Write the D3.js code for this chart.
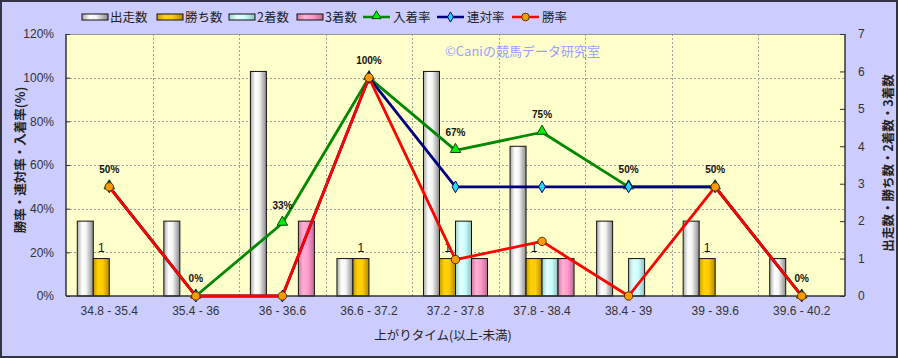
<!DOCTYPE html>
<html><head><meta charset="utf-8">
<script src="https://cdn.jsdelivr.net/npm/d3@7"></script>
<style>body{margin:0;padding:0;background:#fff}svg{display:block}</style>
</head><body>
<script>
const categories = ["34.8 - 35.4","35.4 - 36","36 - 36.6","36.6 - 37.2","37.2 - 37.8","37.8 - 38.4","38.4 - 39","39 - 39.6","39.6 - 40.2"];
const runs   = [2,2,6,1,6,4,2,2,1];   // 出走数
const wins   = [1,0,0,1,1,1,0,1,0];   // 勝ち数
const second = [0,0,0,0,2,1,1,0,0];   // 2着数
const third  = [0,0,2,0,1,1,0,0,0];   // 3着数
const winRate   = [0.5,0,0,1,0.1667,0.25,0,0.5,0];     // 勝率
const rentaiRate= [0.5,0,0,1,0.5,0.5,0.5,0.5,0];        // 連対率
const placeRate = [0.5,0,0.3333,1,0.6667,0.75,0.5,0.5,0]; // 入着率
const placeLabels = ["50%","0%","33%","100%","67%","75%","50%","50%","0%"];
const leftTicks = [0,0.2,0.4,0.6,0.8,1.0,1.2];
const rightTicks = [0,1,2,3,4,5,6,7];

const W=898,H=358;
const L=66,R=845,T=34,B=296;
const jp='"Noto Sans CJK JP","Noto Sans",sans-serif';
const num='"Liberation Sans",Arial,sans-serif';

const svg=d3.select("body").append("svg").attr("width",W).attr("height",H);
const defs=svg.append("defs");
function grad(id,stops){
  const g=defs.append("linearGradient").attr("id",id).attr("x1","0").attr("x2","1").attr("y1","0").attr("y2","0");
  stops.forEach(s=>g.append("stop").attr("offset",s[0]).attr("stop-color",s[1]));
}
grad("gRun",[[0,"#a8a8a8"],[0.3,"#ffffff"],[0.55,"#f4f4f4"],[1,"#8a8a8a"]]);
grad("gWin",[[0,"#c89a00"],[0.3,"#ffd200"],[0.6,"#ffcc00"],[1,"#b08800"]]);
grad("gSec",[[0,"#9fd0d0"],[0.3,"#e0ffff"],[0.6,"#ccffff"],[1,"#8fbfbf"]]);
grad("gThr",[[0,"#d07aa0"],[0.3,"#ffb0d4"],[0.6,"#ff99cc"],[1,"#c06890"]]);

svg.append("rect").attr("x",0).attr("y",0).attr("width",W).attr("height",H).attr("fill","#ccccff");
svg.append("rect").attr("x",1).attr("y",1).attr("width",W-2).attr("height",H-2).attr("fill","none").attr("stroke","#333344").attr("stroke-width",2);
svg.append("rect").attr("x",L).attr("y",T).attr("width",R-L).attr("height",B-T).attr("fill","#ffffcc");

const x=d3.scaleBand().domain(categories).range([L,R]).padding(0);
const yL=d3.scaleLinear().domain([0,1.2]).range([B,T]);
const yR=d3.scaleLinear().domain([0,7]).range([B,T]);
const series=["run","win","sec","thr"];
const bw=16;
const xs=d3.scaleBand().domain(series).range([0,bw*4]);
const off=(x.bandwidth()-bw*4)/2;

// gridlines
const grid=svg.append("g");
leftTicks.forEach(t=>{ if(t>0) grid.append("line").attr("x1",L).attr("x2",R).attr("y1",Math.round(yL(t))+0.5).attr("y2",Math.round(yL(t))+0.5)
  .attr("stroke","#a0a0a0").attr("stroke-dasharray","2,2"); });
categories.forEach((c,i)=>{ if(i>0) grid.append("line").attr("x1",Math.round(x(c))+0.5).attr("x2",Math.round(x(c))+0.5).attr("y1",T).attr("y2",B)
  .attr("stroke","#a0a0a0").attr("stroke-dasharray","2,2"); });

// bars
const barData=[["run",runs,"url(#gRun)"],["win",wins,"url(#gWin)"],["sec",second,"url(#gSec)"],["thr",third,"url(#gThr)"]];
const bars=svg.append("g");
barData.forEach(([k,vals,fill])=>{
  bars.selectAll(null).data(vals.map((v,i)=>({v,c:categories[i]})).filter(d=>d.v>0)).enter().append("rect")
    .attr("x",d=>x(d.c)+off+xs(k)).attr("width",bw)
    .attr("y",d=>yR(d.v)).attr("height",d=>B-yR(d.v))
    .attr("fill",fill).attr("stroke","#111").attr("stroke-width",1);
});
// win count labels
svg.append("g").selectAll("text").data(wins.map((v,i)=>({v,c:categories[i]})).filter(d=>d.v>0)).enter().append("text")
  .attr("x",d=>x(d.c)+off+xs("win")+bw/2).attr("y",d=>yR(d.v)-7)
  .attr("text-anchor","middle").attr("font-family",num).attr("font-size",12).attr("fill","#111").text(d=>d.v);

// axes
const ax=svg.append("g").attr("stroke","#333").attr("stroke-width",1.5).attr("fill","none");
ax.append("line").attr("x1",L).attr("x2",L).attr("y1",T).attr("y2",B);
ax.append("line").attr("x1",R).attr("x2",R).attr("y1",T).attr("y2",B);
ax.append("line").attr("x1",L).attr("x2",R).attr("y1",B).attr("y2",B);
svg.append("line").attr("x1",L).attr("x2",R).attr("y1",T+0.5).attr("y2",T+0.5).attr("stroke","#999");

const leftAxis=svg.append("g").attr("transform",`translate(${L},0)`)
  .call(d3.axisLeft(yL).tickValues(leftTicks).tickFormat(d=>Math.round(d*100)+"%").tickSize(-4).tickPadding(12));
const rightAxis=svg.append("g").attr("transform",`translate(${R},0)`)
  .call(d3.axisRight(yR).tickValues(rightTicks).tickFormat(d3.format("d")).tickSize(-5).tickPadding(13));
const bottomAxis=svg.append("g").attr("transform",`translate(0,${B})`)
  .call(d3.axisBottom(x).tickSize(0).tickPadding(10));
[leftAxis,rightAxis,bottomAxis].forEach(a=>{
  a.select(".domain").remove();
  a.selectAll("line").attr("stroke","#333");
  a.selectAll("text").attr("font-family",num).attr("font-size",12).attr("fill","#333");
});

// lines
function drawLine(vals,color){
  const line=d3.line().x((d,i)=>x(categories[i])+x.bandwidth()/2).y(d=>yL(d));
  svg.append("path").datum(vals).attr("d",line).attr("fill","none").attr("stroke",color).attr("stroke-width",2.8).attr("stroke-linejoin","round");
}
const cx=i=>x(categories[i])+x.bandwidth()/2;
drawLine(placeRate,"#008800");
svg.append("g").selectAll("path").data(placeRate).enter().append("path")
  .attr("d",d3.symbol().type(d3.symbolTriangle).size(48)).attr("transform",(d,i)=>`translate(${cx(i)},${yL(d)-1})`)
  .attr("fill","#00ee00").attr("stroke","#114411").attr("stroke-width",1);
drawLine(rentaiRate,"#000080");
svg.append("g").selectAll("path").data(rentaiRate).enter().append("path")
  .attr("d",d3.symbol().type(d3.symbolDiamond).size(40)).attr("transform",(d,i)=>`translate(${cx(i)},${yL(d)})`)
  .attr("fill","#22ddee").attr("stroke","#000080").attr("stroke-width",1);
drawLine(winRate,"#ff0000");
svg.append("g").selectAll("circle").data(winRate).enter().append("circle")
  .attr("cx",(d,i)=>cx(i)).attr("cy",d=>yL(d)).attr("r",4.2)
  .attr("fill","#ff9900").attr("stroke","#553300").attr("stroke-width",1);

// place rate labels
svg.append("g").selectAll("text").data(placeRate).enter().append("text")
  .attr("x",(d,i)=>cx(i)).attr("y",d=>yL(d)-14)
  .attr("text-anchor","middle").attr("font-family",num).attr("font-weight","bold").attr("font-size",10).attr("fill","#111")
  .text((d,i)=>placeLabels[i]);

// watermark
svg.append("text").attr("x",445).attr("y",56).attr("font-family",jp).attr("font-size",13).attr("fill","#99a0ff").text("©Caniの競馬データ研究室");

// titles
svg.append("text").attr("transform","translate(25,160) rotate(-90)").attr("text-anchor","middle")
  .attr("font-family",jp).attr("font-size",12.5).attr("font-weight","bold").attr("fill","#222").text("勝率・連対率・入着率(%)");
svg.append("text").attr("transform","translate(893,163) rotate(-90)").attr("text-anchor","middle")
  .attr("font-family",jp).attr("font-size",12.5).attr("font-weight","bold").attr("fill","#222").text("出走数・勝ち数・2着数・3着数");
svg.append("text").attr("x",443).attr("y",340).attr("text-anchor","middle")
  .attr("font-family",jp).attr("font-size",12.5).attr("fill","#222").text("上がりタイム(以上-未満)");

// legend
const lg=svg.append("g");
const legBars=[["出走数","url(#gRun)",82],["勝ち数","url(#gWin)",157],["2着数","url(#gSec)",229],["3着数","url(#gThr)",297]];
legBars.forEach(([t,f,lx])=>{
  lg.append("rect").attr("x",lx).attr("y",14).attr("width",26).attr("height",6).attr("fill",f).attr("stroke","#111");
  lg.append("text").attr("x",lx+28).attr("y",22).attr("font-family",jp).attr("font-size",12.5).attr("fill","#222").text(t);
});
const legLines=[["入着率","#008800",363,"tri"],["連対率","#000080",437,"dia"],["勝率","#ff0000",512,"cir"]];
legLines.forEach(([t,c,lx,m])=>{
  lg.append("line").attr("x1",lx).attr("x2",lx+27).attr("y1",17).attr("y2",17).attr("stroke",c).attr("stroke-width",2.5);
  const mx=lx+13.5;
  if(m==="tri") lg.append("path").attr("d",d3.symbol().type(d3.symbolTriangle).size(36)).attr("transform",`translate(${mx},16)`).attr("fill","#00ee00").attr("stroke","#114411");
  if(m==="dia") lg.append("path").attr("d",d3.symbol().type(d3.symbolDiamond).size(30)).attr("transform",`translate(${mx},17)`).attr("fill","#22ddee").attr("stroke","#000080");
  if(m==="cir") lg.append("circle").attr("cx",mx).attr("cy",17).attr("r",3.8).attr("fill","#ff9900").attr("stroke","#553300");
  lg.append("text").attr("x",lx+30).attr("y",22).attr("font-family",jp).attr("font-size",12.5).attr("fill","#222").text(t);
});
</script>
</body></html>
